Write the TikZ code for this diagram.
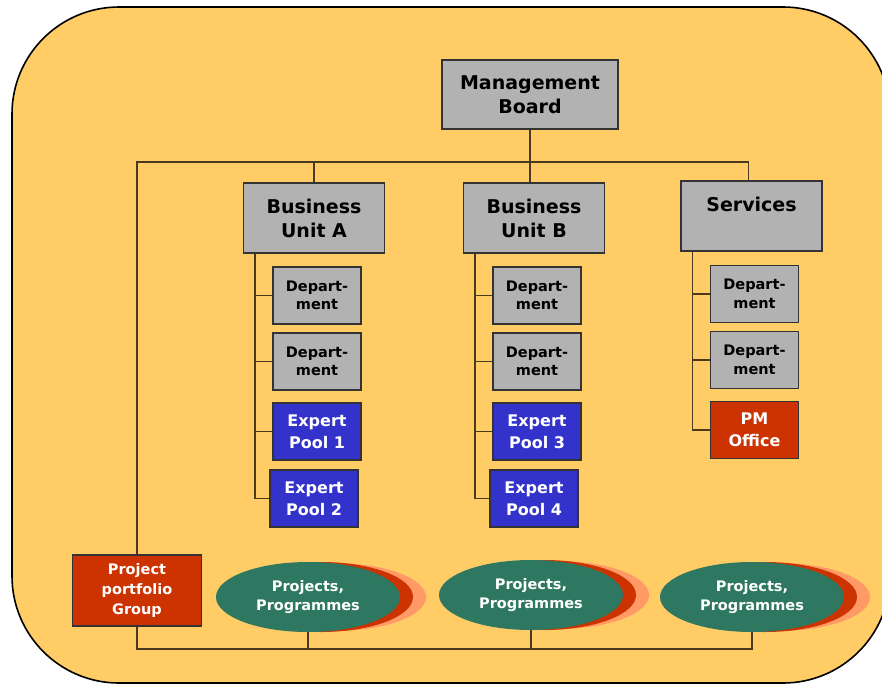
\documentclass[tikz,border=0pt]{standalone}
\usepackage{fontspec}
\setmainfont{DejaVu Sans}
\usepackage{tikz}
\usetikzlibrary{shapes.geometric}
\definecolor{bgyellow}{HTML}{FFCC66}
\definecolor{boxgray}{HTML}{B2B2B2}
\definecolor{poolblue}{HTML}{3333CC}
\definecolor{pmred}{HTML}{CC3300}
\definecolor{projgreen}{HTML}{2E7760}
\definecolor{rimorange}{HTML}{FF9966}
\definecolor{linec}{HTML}{4A3A1C}

\begin{document}
\begin{tikzpicture}[x=1pt,y=-1pt,
  box/.style={draw=black!80,line width=1.2pt,align=center,inner sep=0pt,font=\bfseries},
  unit/.style={box,fill=boxgray,minimum width=141,minimum height=70,font=\bfseries\fontsize{19}{24}\selectfont},
  dept/.style={box,fill=boxgray,minimum width=88,minimum height=57,font=\bfseries\fontsize{14.5}{18.5}\selectfont},
  pool/.style={box,fill=poolblue,text=white,minimum width=88,minimum height=57,font=\bfseries\fontsize{16}{22}\selectfont},
  office/.style={box,fill=pmred,text=white,minimum width=88,minimum height=57,font=\bfseries\fontsize{16}{22}\selectfont},
  proj/.style={ellipse,fill=projgreen,text=white,align=center,inner sep=0pt,minimum width=184,minimum height=70,font=\bfseries\fontsize{14.5}{19}\selectfont},
  conn/.style={draw=linec,line width=1.2pt}]
  \useasboundingbox (0,0) rectangle (882,683);
  \clip (0,0) rectangle (882,683);
  % frame
  \draw[line width=1.6pt,fill=bgyellow,rounded corners=107pt] (12,7) rectangle (890,683);
  % top level
  \node[unit,minimum width=176,minimum height=69] (mb) at (530,94.5) {Management\\Board};
  \node[unit] (bua) at (314,218) {Business\\Unit A};
  \node[unit] (bub) at (534,218) {Business\\Unit B};
  \node[unit] (serv) at (751.5,216) {Services\\\phantom{X}};
  % departments and pools
  \node[dept] (da1) at (317,295.5) {Depart-\\ment};
  \node[dept] (da2) at (317,361.5) {Depart-\\ment};
  \node[pool] (ep1) at (317,431.5) {Expert\\Pool 1};
  \node[pool] (ep2) at (314,498.5) {Expert\\Pool 2};
  \node[dept] (db1) at (537,295.5) {Depart-\\ment};
  \node[dept] (db2) at (537,361.5) {Depart-\\ment};
  \node[pool] (ep3) at (537,431.5) {Expert\\Pool 3};
  \node[pool] (ep4) at (534,498.5) {Expert\\Pool 4};
  \node[dept] (ds1) at (754.5,294) {Depart-\\ment};
  \node[dept] (ds2) at (754.5,360) {Depart-\\ment};
  \node[office] (pmo) at (754.5,430) {PM\\Office};
  % bottom row
  \node[office,minimum width=129,minimum height=71,font=\bfseries\fontsize{14.5}{20}\selectfont] (ppg) at (137,590.5) {Project\\portfolio\\Group};
  \foreach \n/\x/\y in {pp1/308/597,pp2/531/595,pp3/752/597} {
    \fill[rimorange] (\x+26,\y) ellipse [x radius=92,y radius=34];
    \fill[pmred] (\x+13,\y) ellipse [x radius=92,y radius=35];
    \node[proj] (\n) at (\x,\y) {Projects,\\Programmes};
  }
  % connectors
  \coordinate (topbus) at (530,162);
  \coordinate (botbus) at (530,649);
  \draw[conn] (mb.south) -- (mb.south |- bub.north);
  \draw[conn] (bua.north) -- (bua.north |- topbus);
  \draw[conn] (ppg.north) |- ([xshift=-3pt]serv.north |- topbus) -- ([xshift=-3pt]serv.north);
  \foreach \n in {da1,da2,ep1,ep2} \draw[conn] (\n.west) -| ([xshift=12pt]bua.south west);
  \foreach \n in {db1,db2,ep3,ep4} \draw[conn] (\n.west) -| ([xshift=12pt]bub.south west);
  \foreach \n in {ds1,ds2,pmo} \draw[conn] (\n.west) -| ([xshift=12pt]serv.south west);
  \draw[conn] (ppg.south) |- (pp3.south |- botbus) -- (pp3.south);
  \foreach \n in {pp1,pp2} \draw[conn] (\n.south) -- (\n.south |- botbus);
\end{tikzpicture}
\end{document}
